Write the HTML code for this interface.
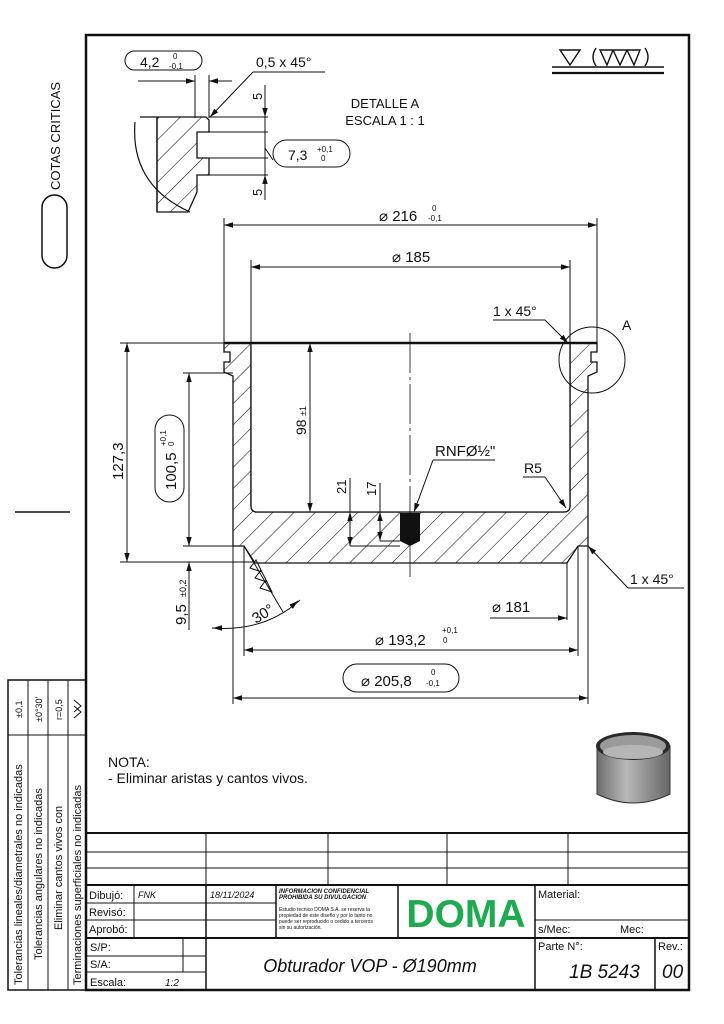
<!DOCTYPE html>
<html><head><meta charset="utf-8"><style>
html,body{margin:0;padding:0;background:#fff}
svg{display:block}
text{font-family:"Liberation Sans",sans-serif;fill:#111}
</style></head><body>
<svg width="724" height="1024" viewBox="0 0 724 1024" xmlns="http://www.w3.org/2000/svg">
<defs>
<pattern id="h" patternUnits="userSpaceOnUse" width="15" height="15" patternTransform="rotate(45)">
<line x1="0" y1="0" x2="0" y2="15" stroke="#111" stroke-width="1.1"/>
</pattern>
<marker id="a" viewBox="0 0 10 10" refX="10" refY="5" markerWidth="9" markerHeight="9" orient="auto-start-reverse" markerUnits="userSpaceOnUse">
<path d="M0,2 L10,5 L0,8 Z" fill="#111"/>
</marker>
<linearGradient id="g" x1="0" x2="1"><stop offset="0" stop-color="#6e6e6e"/><stop offset="0.4" stop-color="#b8b8b8"/><stop offset="1" stop-color="#666"/></linearGradient>
</defs>
<rect width="724" height="1024" fill="#fff"/>
<rect x="86" y="35" width="603" height="955" fill="none" stroke="#111" stroke-width="2.5"/>

<text transform="translate(60,190) rotate(-90)" font-size="13">COTAS CRITICAS</text>
<rect x="42" y="195" width="25" height="73" rx="12.5" fill="none" stroke="#111" stroke-width="1.5"/>
<line x1="15" y1="512" x2="70" y2="512" stroke="#111" stroke-width="1.5"/>

<g stroke="#111" fill="none" stroke-width="1.4">
<path d="M560,50 L580,50 L570,65 Z"/>
<path d="M600,50 L613,50 L607,65 Z M613,50 L627,50 L620,65 Z M627,50 L640,50 L634,65 Z" />
<path d="M596,48 Q590,57 596,66 M645,48 Q651,57 645,66"/>
<line x1="552" y1="67" x2="664" y2="67"/>
<line x1="552" y1="73" x2="664" y2="73" stroke-width="2.2"/>
</g>

<g stroke="#111" fill="none" stroke-width="1">
<rect x="125" y="51" width="77" height="19" rx="9.5"/>
<line x1="138" y1="81" x2="195" y2="81" marker-end="url(#a)"/>
<line x1="232" y1="81" x2="209" y2="81" marker-end="url(#a)"/>
<line x1="195" y1="75" x2="195" y2="118"/>
<line x1="209" y1="75" x2="209" y2="118"/>
<line x1="253" y1="72" x2="325" y2="72"/>
<line x1="253" y1="72" x2="210" y2="117" marker-end="url(#a)"/>
<path d="M157,117 H206 L209,120 V132 H197 V158 H209 V175 H197 V192 L188,212 H157 Z" fill="url(#h)" stroke-width="1.3"/>
<line x1="157" y1="117" x2="157" y2="212" stroke-width="1.3"/>
<path d="M140,117 H157" stroke-width="1.3"/>
<path d="M135,122 Q130,185 190,212" stroke-width="1.2"/>
<line x1="209" y1="117" x2="268" y2="117"/>
<line x1="209" y1="132" x2="268" y2="132"/>
<line x1="209" y1="158" x2="268" y2="158"/>
<line x1="209" y1="175" x2="268" y2="175"/>
<line x1="265" y1="85" x2="265" y2="117" marker-end="url(#a)"/>
<line x1="265" y1="200" x2="265" y2="175" marker-end="url(#a)"/>
<line x1="265" y1="117" x2="265" y2="175"/>
<rect x="273" y="140" width="77" height="27" rx="13.5"/>
<line x1="273" y1="160" x2="265" y2="148"/>
</g>
<text x="140" y="67" font-size="14">4,2</text>
<text x="173" y="59" font-size="8">0</text>
<text x="169" y="69" font-size="8">-0,1</text>
<text x="256" y="67" font-size="14">0,5 x 45°</text>
<text transform="translate(262,100) rotate(-90)" font-size="13">5</text>
<text transform="translate(262,196) rotate(-90)" font-size="13">5</text>
<text x="288" y="160" font-size="14">7,3</text>
<text x="317" y="152" font-size="8">+0,1</text>
<text x="321" y="161" font-size="8">0</text>
<text x="385" y="108" font-size="13" text-anchor="middle">DETALLE A</text>
<text x="385" y="125" font-size="13" text-anchor="middle">ESCALA 1 : 1</text>

<path d="M224,343 H251 V506 Q251,512 257,512 H564 Q570,512 570,506 V343 H597 V352 H591 V362 H597 V372 L588,376 V546 H578 L567,563 H255 L244,546 H233 V376 L224,372 V362 H230 V352 H224 Z" fill="url(#h)" stroke="#111" stroke-width="1.3"/>
<path d="M251,343 V506 Q251,512 257,512 H564 Q570,512 570,506 V343 Z" fill="#fff" stroke="#111" stroke-width="1.3"/>
<line x1="224" y1="343" x2="597" y2="343" stroke="#111" stroke-width="2.5"/>
<rect x="400" y="513" width="20" height="28" fill="#111"/>
<path d="M400,541 L410,546 L420,541 Z" fill="#111"/>
<line x1="410" y1="333" x2="410" y2="580" stroke="#111" stroke-width="0.8" stroke-dasharray="40,4,3,4"/>

<g stroke="#111" fill="none" stroke-width="1">
<line x1="224" y1="218" x2="224" y2="343"/>
<line x1="597" y1="218" x2="597" y2="343"/>
<line x1="235" y1="225" x2="224" y2="225" marker-end="url(#a)"/><line x1="586" y1="225" x2="597" y2="225" marker-end="url(#a)"/>
<line x1="224" y1="225" x2="597" y2="225"/>
<line x1="251" y1="260" x2="251" y2="343"/>
<line x1="570" y1="260" x2="570" y2="343"/>
<line x1="251" y1="267" x2="570" y2="267"/>
<line x1="262" y1="267" x2="251" y2="267" marker-end="url(#a)"/><line x1="559" y1="267" x2="570" y2="267" marker-end="url(#a)"/>
<line x1="493" y1="320" x2="545" y2="320"/>
<line x1="545" y1="320" x2="568" y2="343" marker-end="url(#a)"/>
<circle cx="592" cy="360" r="33"/>
<line x1="120" y1="343" x2="224" y2="343"/>
<line x1="120" y1="562" x2="255" y2="562"/>
<line x1="127" y1="343" x2="127" y2="562" marker-start="url(#a)" marker-end="url(#a)"/>
<line x1="183" y1="373" x2="233" y2="373"/>
<line x1="183" y1="546" x2="233" y2="546"/>
<line x1="189" y1="373" x2="189" y2="546" marker-start="url(#a)" marker-end="url(#a)"/>
<rect x="155" y="415" width="29" height="87" rx="14.5"/>
<line x1="189" y1="562" x2="189" y2="630"/>
<line x1="189" y1="575" x2="189" y2="562" marker-end="url(#a)"/>
<line x1="244" y1="546" x2="283" y2="612"/>
<path d="M250,568 L262,572 L256,560 Z M255,578 L267,582 L261,570 Z M260,588 L272,592 L266,580 Z"/>
<path d="M212,628 Q265,632 300,600"/>
<line x1="220" y1="628" x2="213" y2="628" marker-end="url(#a)"/>
<line x1="292" y1="606" x2="298" y2="601" marker-end="url(#a)"/>
<line x1="310" y1="343" x2="310" y2="512" marker-start="url(#a)" marker-end="url(#a)"/>
<line x1="350" y1="478" x2="350" y2="546"/>
<line x1="350" y1="525" x2="350" y2="512" marker-end="url(#a)"/>
<line x1="350" y1="533" x2="350" y2="546" marker-end="url(#a)"/>
<line x1="350" y1="546" x2="400" y2="546"/>
<line x1="380" y1="483" x2="380" y2="541"/>
<line x1="380" y1="525" x2="380" y2="512" marker-end="url(#a)"/>
<line x1="380" y1="530" x2="380" y2="541" marker-end="url(#a)"/>
<line x1="380" y1="541" x2="400" y2="541"/>
<line x1="433" y1="460" x2="495" y2="460"/>
<line x1="433" y1="460" x2="414" y2="512" marker-end="url(#a)"/>
<line x1="523" y1="477" x2="545" y2="477"/>
<line x1="545" y1="477" x2="566" y2="508" marker-end="url(#a)"/>
<line x1="588" y1="546" x2="628" y2="588" marker-start="url(#a)"/>
<line x1="628" y1="588" x2="684" y2="588"/>
<line x1="567" y1="563" x2="567" y2="620"/>
<line x1="490" y1="618" x2="567" y2="618" marker-end="url(#a)"/>
<line x1="244" y1="546" x2="244" y2="656"/>
<line x1="578" y1="546" x2="578" y2="656"/>
<line x1="244" y1="650" x2="578" y2="650" marker-start="url(#a)" marker-end="url(#a)"/>
<line x1="233" y1="546" x2="233" y2="704"/>
<line x1="588" y1="546" x2="588" y2="704"/>
<line x1="233" y1="698" x2="588" y2="698" marker-start="url(#a)" marker-end="url(#a)"/>
<rect x="343" y="664" width="116" height="28" rx="14"/>
</g>
<text x="379" y="221" font-size="15">⌀ 216</text>
<text x="432" y="211" font-size="8">0</text>
<text x="428" y="221" font-size="8">-0,1</text>
<text x="392" y="262" font-size="15">⌀ 185</text>
<text x="493" y="316" font-size="14">1 x 45°</text>
<text x="622" y="330" font-size="14">A</text>
<text transform="translate(123,480) rotate(-90)" font-size="15">127,3</text>
<text transform="translate(176,490) rotate(-90)" font-size="15">100,5</text>
<text transform="translate(166,446) rotate(-90)" font-size="8">+0,1</text>
<text transform="translate(174,446) rotate(-90)" font-size="8">0</text>
<text transform="translate(186,625) rotate(-90)" font-size="15">9,5</text>
<text transform="translate(186,597) rotate(-90)" font-size="9">±0,2</text>
<text transform="translate(256,624) rotate(-32)" font-size="15">30°</text>
<text transform="translate(306,435) rotate(-90)" font-size="14">98</text>
<text transform="translate(306,416) rotate(-90)" font-size="9">±1</text>
<text transform="translate(346,494) rotate(-90)" font-size="13">21</text>
<text transform="translate(376,496) rotate(-90)" font-size="13">17</text>
<text x="435" y="456" font-size="15">RNFØ½"</text>
<text x="524" y="473" font-size="14">R5</text>
<text x="630" y="584" font-size="14">1 x 45°</text>
<text x="492" y="612" font-size="15">⌀ 181</text>
<text x="375" y="645" font-size="15">⌀ 193,2</text>
<text x="442" y="633" font-size="8">+0,1</text>
<text x="443" y="643" font-size="8">0</text>
<text x="361" y="686" font-size="15">⌀ 205,8</text>
<text x="431" y="675" font-size="8">0</text>
<text x="426" y="686" font-size="8">-0,1</text>

<text x="108" y="767" font-size="14">NOTA:</text>
<text x="108" y="783" font-size="14">- Eliminar aristas y cantos vivos.</text>

<path d="M597,746 V794 Q633,812 670,794 V746 Z" fill="url(#g)" stroke="#333"/>
<ellipse cx="633" cy="746" rx="37" ry="14" fill="#2a2a2a"/>
<ellipse cx="633" cy="746" rx="33" ry="11" fill="#9a9a9a"/>
<ellipse cx="633" cy="752" rx="30" ry="7" fill="#b5b5b5"/>

<g stroke="#111" fill="none" stroke-width="1">
<rect x="8" y="680" width="78" height="310" stroke-width="1.5"/>
<line x1="28" y1="680" x2="28" y2="990"/>
<line x1="48" y1="680" x2="48" y2="990"/>
<line x1="68" y1="680" x2="68" y2="990"/>
<line x1="8" y1="735" x2="86" y2="735"/>
</g>
<g font-size="11">
<text transform="translate(22,985) rotate(-90)">Tolerancias lineales/diametrales no indicadas</text>
<text transform="translate(42,960) rotate(-90)">Tolerancias angulares no indicadas</text>
<text transform="translate(62,930) rotate(-90)">Eliminar cantos vivos con</text>
<text transform="translate(81,985) rotate(-90)">Terminaciones superficiales no indicadas</text>
<text transform="translate(22,718) rotate(-90)" font-size="9">±0,1</text>
<text transform="translate(42,722) rotate(-90)" font-size="9">±0°30'</text>
<text transform="translate(62,720) rotate(-90)" font-size="9">r=0,5</text>
</g>
<path d="M74,700 L81,706 L74,712 M74,706 L81,712 L74,718" stroke="#111" fill="none"/>

<g stroke="#111" fill="none" stroke-width="1">
<line x1="86" y1="833" x2="689" y2="833" stroke-width="2"/>
<line x1="86" y1="852" x2="689" y2="852"/>
<line x1="86" y1="868" x2="689" y2="868"/>
<line x1="86" y1="885" x2="689" y2="885" stroke-width="2"/>
<line x1="206" y1="833" x2="206" y2="885"/>
<line x1="328" y1="833" x2="328" y2="885"/>
<line x1="447" y1="833" x2="447" y2="885"/>
<line x1="568" y1="833" x2="568" y2="885"/>
<line x1="86" y1="903" x2="276" y2="903"/>
<line x1="86" y1="920" x2="276" y2="920"/>
<line x1="535" y1="920" x2="689" y2="920"/>
<line x1="134" y1="885" x2="134" y2="938"/>
<line x1="206" y1="885" x2="206" y2="990" stroke-width="1.5"/>
<line x1="276" y1="885" x2="276" y2="938" stroke-width="1.5"/>
<line x1="398" y1="885" x2="398" y2="938" stroke-width="1.5"/>
<line x1="535" y1="885" x2="535" y2="990" stroke-width="1.5"/>
<line x1="86" y1="938" x2="689" y2="938" stroke-width="2"/>
<line x1="86" y1="956" x2="206" y2="956"/>
<line x1="86" y1="972" x2="206" y2="972"/>
<line x1="183" y1="938" x2="183" y2="972"/>
<line x1="655" y1="938" x2="655" y2="990" stroke-width="1.5"/>
</g>
<g font-size="11">
<text x="89" y="899">Dibujó:</text>
<text x="138" y="898" font-size="9" font-style="italic">FNK</text>
<text x="210" y="898" font-size="9" font-style="italic">18/11/2024</text>
<text x="89" y="916">Revisó:</text>
<text x="89" y="933">Aprobó:</text>
<text x="279" y="893" font-size="6" font-weight="bold" font-style="italic">INFORMACION CONFIDENCIAL</text>
<text x="279" y="899" font-size="6" font-weight="bold" font-style="italic">PROHIBIDA SU DIVULGACION</text>
<text x="279" y="911" font-size="5">Estudio tecnico DOMA S.A. se reserva la</text>
<text x="279" y="917" font-size="5">propiedad de este diseño y por lo tanto no</text>
<text x="279" y="923" font-size="5">puede ser reproducido o cedido a terceros</text>
<text x="279" y="929" font-size="5">sin su autorización.</text>
<text x="466" y="927" font-size="39" font-weight="bold" text-anchor="middle" style="fill:#1faa4f">DOMA</text>
<text x="538" y="898">Material:</text>
<text x="538" y="933">s/Mec:</text>
<text x="620" y="933">Mec:</text>
<text x="90" y="951">S/P:</text>
<text x="90" y="968">S/A:</text>
<text x="90" y="986">Escala:</text>
<text x="165" y="986" font-size="10" font-style="italic">1:2</text>
<text x="370" y="972" font-size="18" font-style="italic" text-anchor="middle">Obturador VOP - Ø190mm</text>
<text x="538" y="950">Parte N°:</text>
<text x="569" y="978" font-size="19" font-style="italic">1B 5243</text>
<text x="658" y="950">Rev.:</text>
<text x="662" y="978" font-size="19" font-style="italic">00</text>
</g>
</svg>
</body></html>
